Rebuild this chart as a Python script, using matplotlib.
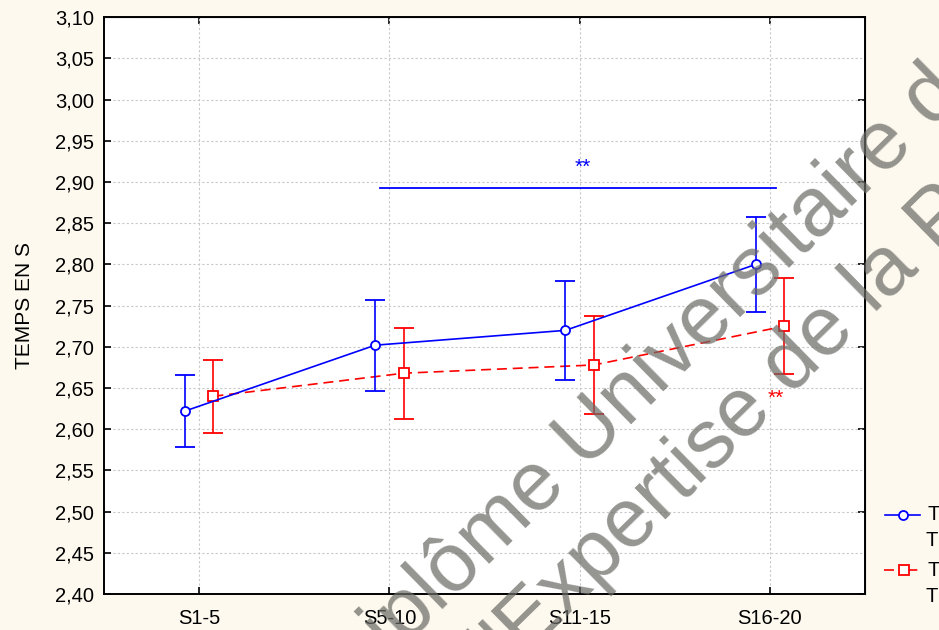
import numpy as np
import matplotlib.pyplot as plt
from matplotlib.lines import Line2D
from matplotlib.ticker import FuncFormatter

plt.rcParams['font.family'] = ['Liberation Sans', 'DejaVu Sans']

# moyennes et intervalles par bloc de séances
sessions = ['S1-5', 'S5-10', 'S11-15', 'S16-20']
blue_mean = [2.622, 2.702, 2.720, 2.800]
blue_err = [0.044, 0.055, 0.060, 0.058]
red_mean = [2.640, 2.668, 2.678, 2.725]
red_err = [0.044, 0.055, 0.059, 0.058]

blue_label = ['T', 'T']
red_label = ['T', 'T']

bg = '#fdf9ef'
BLUE = '#0000ff'
RED = '#ff0000'

fig = plt.figure(figsize=(9.39, 6.30), dpi=100, facecolor=bg)
ax = fig.add_axes([104 / 939, 1 - 594 / 630, 761 / 939, 576.7 / 630])
ax.set_facecolor('white')

x = np.arange(len(sessions))
shift = 0.075

ax.errorbar(x - shift, blue_mean, yerr=blue_err, color=BLUE, lw=1.2,
            marker='o', ms=6.5, mfc='white', mec=BLUE, mew=1.3,
            capsize=7, capthick=1.2, elinewidth=1.2, zorder=4)
ax.errorbar(x + shift, red_mean, yerr=red_err, color=RED, lw=1.2,
            ls=(0, (6, 3.5)), marker='s', ms=6.5, mfc='white', mec=RED,
            mew=1.3, capsize=7, capthick=1.2, elinewidth=1.2, zorder=3)

# significativité
ax.plot([0.95, 3.03], [2.893, 2.893], color=BLUE, lw=1.3, zorder=4)
ax.text(2.015, 2.918, '**', color=BLUE, fontsize=15, ha='center', va='center')
ax.text(3.03, 2.638, '**', color=RED, fontsize=15, ha='center', va='center')

ax.set_xlim(-0.5, 3.5)
ax.set_ylim(2.40, 3.10)
ax.set_xticks(x)
ax.set_xticklabels(sessions)
ax.set_yticks(np.arange(2.40, 3.101, 0.05))
ax.yaxis.set_major_formatter(FuncFormatter(lambda v, p: f'{v:.2f}'.replace('.', ',')))
ax.tick_params(axis='both', direction='in', length=5, width=1.2, labelsize=14.5,
               color='black')
ax.tick_params(axis='y', pad=7)
ax.tick_params(axis='x', pad=11)
ax.grid(True, color='#c8c8c8', ls=(0, (2, 2)), lw=0.8)
ax.set_axisbelow(True)
for s in ax.spines.values():
    s.set_linewidth(1.4)

top = ax.secondary_xaxis('top')
top.set_xticks(x)
top.set_xticklabels([])
top.tick_params(direction='in', length=5, width=1.2)
right = ax.secondary_yaxis('right')
right.set_yticks(np.arange(2.40, 3.101, 0.10))
right.set_yticklabels([])
right.tick_params(direction='in', length=5, width=1.2)

ax.set_ylabel('TEMPS EN S', fontsize=15, labelpad=15)

# légende à droite
def fx(px):
    return px / 939

def fy(py):
    return 1 - py / 630

fig.add_artist(Line2D([fx(885), fx(920)], [fy(515), fy(515)], color=BLUE, lw=1.2,
                      transform=fig.transFigure))
fig.add_artist(Line2D([fx(903)], [fy(515)], color=BLUE, marker='o', ms=6.5,
                      mfc='white', mew=1.3, transform=fig.transFigure))
fig.add_artist(Line2D([fx(884), fx(922)], [fy(570), fy(570)], color=RED, lw=1.2,
                      ls=(0, (6, 8)), transform=fig.transFigure))
fig.add_artist(Line2D([fx(904)], [fy(570)], color=RED, marker='s', ms=6.5,
                      mfc='white', mew=1.3, transform=fig.transFigure))
fig.text(fx(927), fy(515), blue_label[0], fontsize=14.5, va='center')
fig.text(fx(925), fy(541), blue_label[1], fontsize=14.5, va='center')
fig.text(fx(927), fy(570), red_label[0], fontsize=14.5, va='center')
fig.text(fx(925), fy(596), red_label[1], fontsize=14.5, va='center')

# filigrane
wm = dict(fontsize=60, color=(0.42, 0.42, 0.40), alpha=0.72, rotation=44.5,
          rotation_mode='anchor', ha='left', va='baseline', zorder=20)
fig.text(fx(350), fy(701), 'Diplôme Universitaire de Préparation', **wm)
fig.text(fx(482), fy(700), "d'Expertise de la Performance", **wm)

fig.savefig('out.png', dpi=100, facecolor=bg)
